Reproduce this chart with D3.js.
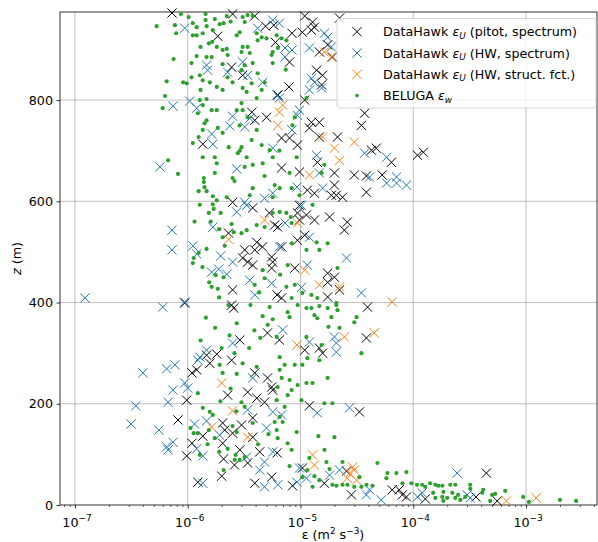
<!DOCTYPE html>
<html>
<head>
<meta charset="utf-8">
<script src="https://cdn.jsdelivr.net/npm/d3@7"></script>
<style>
  body { margin: 0; background: #fff; }
  text { font-family: "DejaVu Sans", sans-serif; }
</style>
</head>
<body>
<div id="chart"></div>
<script>
// [epsilon (m^2 s^-3), z (m)]
var pitot = [
  [7.25e-7,972],[1.85e-6,926],[2.45e-6,865],[1.36e-6,713],[2.5e-6,970],
  [3.93e-6,966],[4.9e-6,946],[5.8e-6,948],[8.4e-6,932],[6.0e-6,914],[8.0e-6,875],[7.9e-6,826],
  [1.09e-5,966],[1.28e-5,954],[1.33e-5,944],[1.04e-5,934],[1.25e-5,938],[2.22e-5,962],
  [1.74e-5,909],[1.47e-5,895],[1.92e-5,885],[1.39e-5,859],[1.57e-5,849],[1.54e-5,830],
  [1.09e-5,800],[6.3e-6,810],[3.7e-6,776],[3.93e-6,760],[5.0e-6,766],[6.8e-6,725],[8.0e-6,725],
  [9.4e-6,711],[1.25e-5,756],[1.2e-5,745],[1.47e-5,756],[1.47e-5,727],[2.13e-5,727],
  [3.7e-5,774],[3.47e-5,750],[4.26e-5,701],[4.7e-5,705],[6.4e-5,677],[1.09e-4,691],[1.23e-4,697],
  [1.41e-5,677],[6.8e-6,666],[9.8e-6,658],[2.0e-5,656],[3.0e-5,652],[3.84e-5,650],[5.3e-5,652],
  [3.07e-6,849],[9.4e-7,399],[2.5e-6,598],[2.3e-6,537],[2.5e-6,425],[2.45e-6,395],[2.56e-6,389],
  [2.0e-5,632],[2.08e-5,612],[2.36e-5,608],[3.84e-5,618],[1.15e-5,622],[1.33e-5,616],[1.88e-5,612],
  [9.8e-6,592],[3.77e-6,587],[5.3e-6,577],[6.3e-6,549],[5.9e-6,553],[9.4e-6,577],[1.13e-5,573],
  [1.33e-5,563],[1.81e-5,569],[2.6e-5,559],[2.45e-5,543],[9.8e-6,563],[9.4e-6,523],[1.09e-5,533],
  [4.1e-6,519],[4.6e-6,510],[3.93e-6,504],[3.2e-6,504],[3.07e-6,488],[3.4e-6,480],[3.77e-6,474],
  [5.55e-6,490],[5.67e-6,480],[5.55e-6,468],[6.8e-6,510],[8.9e-6,468],[1.74e-5,458],[2.0e-5,450],
  [1.74e-5,440],[2.22e-5,425],[1.74e-5,411],[6.2e-6,415],[6.8e-6,409],[3.93e-5,391],
  [5.1e-6,340],[6.5e-6,326],[3.84e-5,330],[2.9e-6,326],[1.47e-5,310],
  [1.09e-6,261],[1.2e-6,267],[9.8e-7,207],[8.2e-7,168],[1.36e-6,136],[1.09e-6,122],[2.04e-6,162],
  [2.13e-6,148],[2.04e-6,122],[2.5e-6,142],[9.8e-7,97],[2.08e-6,91],[2.6e-6,79],[2.0e-6,57],
  [1.23e-6,45],[1.81e-6,298],[1.57e-6,280],[2.45e-6,286],[2.26e-6,217],[1.47e-6,296],
  [1.09e-5,306],[1.57e-5,300],[3.93e-6,261],[5.1e-6,251],[5.55e-6,233],[3.4e-6,223],[4.1e-6,211],
  [4.8e-6,203],[5.67e-6,227],[1.2e-5,196],[3.33e-5,184],[3.77e-6,172],[3.0e-6,158],[3.77e-6,134],
  [2.9e-6,109],[4.35e-6,105],[6.2e-6,103],[3.4e-6,83],[1.04e-5,73],[5.55e-6,55],[3.93e-6,43],
  [8.5e-6,38],[1.63e-5,43],[2.56e-5,67],[2.83e-5,20],[6.5e-5,30],[7.5e-5,30],[8.0e-5,20],
  [8.7e-5,16],[4.45e-4,63],[1.28e-4,12],[3.6e-4,16],[5.55e-4,8]
];

var hwSpectrum = [
  [9.4e-7,942],[1.47e-6,869],[1.5e-6,859],[2.26e-6,855],[7.4e-7,788],[1.04e-6,798],[1.2e-6,784],
  [2.5e-6,768],[2.36e-6,749],[1.63e-6,733],[1.67e-6,713],[5.67e-7,668],[2.72e-6,664],
  [4.17e-6,942],[5.67e-6,958],[6.5e-6,952],[7.3e-6,903],[8.4e-6,899],[7.3e-6,885],[3.07e-6,875],
  [3.4e-6,849],[4.62e-6,835],[6.2e-6,810],[6.5e-6,804],[1.25e-5,843],[1.33e-5,835],[1.2e-5,820],
  [1.54e-5,824],[1.63e-5,932],[1.74e-5,924],[1.2e-5,903],[1.88e-5,905],[9.8e-6,780],[9.4e-6,770],
  [8.4e-6,741],[3.55e-6,764],[3.2e-6,747],[5.67e-6,705],[1.39e-5,691],[3.7e-5,695],[5.8e-5,687],
  [1.47e-5,656],[4.1e-5,648],[7.1e-5,648],
  [7.25e-7,543],[7.25e-7,504],[1.11e-6,512],[1.2e-6,496],[1.67e-6,549],[1.96e-6,492],[1.63e-6,460],
  [1.88e-6,466],[2.22e-6,456],[2.5e-6,480],[1.23e-7,409],[6.0e-7,391],[9.4e-7,401],[2.72e-6,579],
  [2.5e-6,320],[1.47e-6,306],
  [9.3e-6,628],[1.57e-5,626],[5.8e-5,636],[7.1e-5,636],[8.7e-5,632],[5.67e-6,616],[4.8e-6,606],
  [3.2e-6,598],[3.33e-6,592],[7.3e-6,557],[1.02e-5,592],[1.2e-5,529],[6.5e-6,510],[2.56e-5,488],
  [1.15e-5,474],[1.02e-5,430],[3.55e-6,444],[3.93e-6,415],[5.55e-6,438],[3.47e-5,419],[6.95e-6,346],
  [2.0e-5,332],[2.08e-5,320],[1.2e-5,322],
  [4.0e-7,261],[6.5e-7,269],[7.7e-7,277],[9.4e-7,241],[7.4e-7,227],[6.7e-7,203],[1.0e-6,231],
  [3.47e-7,196],[3.14e-7,160],[5.55e-7,148],[6.5e-7,115],[7.4e-7,124],[6.7e-7,109],[1.2e-6,111],
  [1.36e-6,97],[1.15e-6,160],[1.47e-6,166],[1.92e-6,138],[1.28e-6,292],[1.23e-6,286],[1.36e-6,43],
  [2.08e-5,302],[3.77e-6,251],[3.4e-6,188],[5.67e-6,184],[6.8e-6,178],[5.0e-6,152],[1.41e-5,182],
  [2.72e-5,192],[5.67e-6,105],[3.33e-6,95],[4.8e-6,85],[4.35e-6,69],[9.8e-6,73],[1.13e-5,53],
  [9.3e-6,45],[4.8e-6,36],[6.3e-6,40],[2.22e-5,69],[1.81e-5,59],[3.84e-5,20],[4.1e-5,30],
  [5.2e-5,10],[1.09e-4,16],[2.45e-4,63],[1.2e-4,24],[3.0e-4,20],[3.2e-4,14]
];

var hwStruct = [
  [1.63e-5,895],[1.88e-5,885],[6.95e-6,790],[6.5e-6,776],[6.3e-6,750],[1.57e-5,727],[2.0e-5,705],
  [3.0e-5,717],[2.22e-5,681],[1.2e-5,652],[2.3e-6,525],[4.8e-6,563],[9.4e-6,557],[1.09e-5,464],
  [1.47e-5,435],[2.22e-5,431],[6.5e-5,401],[4.5e-5,340],[2.45e-5,332],[9.3e-6,316],[2.0e-6,241],
  [2.5e-6,186],[1.63e-6,154],[3.4e-6,134],[1.28e-5,99],[1.33e-5,79],[2.9e-5,75],[3.0e-5,69],
  [2.72e-5,63],[2.6e-5,53],[3.14e-5,49],[6.7e-4,8],[1.23e-3,14]
];

var beluga = [
  [5.3e-7,946],[7.7e-7,948],[7.9e-7,932],[8.7e-7,970],[1.02e-6,964],[1.11e-6,952],[1.2e-6,944],
  [1.11e-6,928],[1.2e-6,928],[1.36e-6,932],[1.44e-6,958],[1.44e-6,970],[1.47e-6,946],[1.74e-6,960],
  [1.92e-6,950],[2.08e-6,952],[2.22e-6,966],[2.72e-6,928],[1.67e-6,938],[1.54e-6,912],[1.81e-6,905],
  [2.04e-6,899],[2.22e-6,901],[2.26e-6,889],[1.2e-6,887],[1.47e-6,885],[1.63e-6,885],[2.04e-6,871],
  [1.08e-6,873],[1.28e-6,849],[1.36e-6,839],[1.57e-6,835],[1.81e-6,826],[2.04e-6,820],[1.08e-6,845],
  [9.1e-7,835],[6.5e-7,837],[9.8e-7,833],[1.3e-6,820],[7.5e-7,881],[6.3e-7,808],[6.0e-7,784],
  [1.28e-6,800],[1.47e-6,802],[1.36e-6,790],[1.63e-6,780],[1.81e-6,780],[1.23e-6,774],[1.47e-6,760],
  [1.41e-6,754],[1.36e-6,741],[1.25e-6,727],[1.85e-6,745],[2.04e-6,735],[1.11e-6,715],[2.31e-6,707],
  [1.74e-6,687],[1.36e-6,687],[1.81e-6,675],[1.74e-6,656],[6.7e-7,681],[8.2e-7,654],[1.39e-6,646],
  [2.5e-6,646],[2.78e-6,695],[2.72e-6,780],[2.5e-6,835],[2.26e-6,845],
  [3.07e-6,964],[3.4e-6,968],[3.77e-6,966],[3.2e-6,954],[2.89e-6,934],[4.09e-6,932],[4.53e-6,924],
  [4.17e-6,918],[5.0e-6,922],[6.15e-6,928],[6.8e-6,922],[7.5e-6,918],[6.3e-6,903],[5.67e-6,895],
  [5.55e-6,889],[3.4e-6,905],[3.07e-6,905],[3.0e-6,895],[3.55e-6,893],[3.77e-6,873],[3.2e-6,869],
  [3.0e-6,859],[5.67e-6,873],[4.17e-6,853],[3.69e-6,833],[4.81e-6,835],[4.53e-6,820],[3.07e-6,824],
  [3.33e-6,816],[4.09e-6,804],[3.0e-6,794],[3.07e-6,780],[3.4e-6,766],[2.89e-6,750],[4.09e-6,741],
  [3.69e-6,721],[3.0e-6,707],[3.33e-6,687],[4.53e-6,711],[5.33e-6,701],[5.67e-6,687],[4.62e-6,675],
  [3.77e-6,672],[3.2e-6,668],[8.0e-6,656],[8.9e-6,766],[8.5e-6,750],[9.25e-6,687],[1.63e-5,672],
  [1.54e-5,656],[1.13e-5,804],
  [1.41e-6,628],[1.47e-6,620],[1.67e-6,610],[1.81e-6,602],[2.22e-6,608],[1.67e-6,594],[1.28e-6,593],
  [1.7e-6,585],[1.54e-6,577],[1.96e-6,577],[2.45e-6,555],[2.56e-6,539],[2.04e-6,529],[2.13e-6,512],
  [1.47e-6,506],[1.25e-6,498],[1.13e-6,488],[1.11e-6,478],[1.77e-6,454],[2.08e-6,450],[1.63e-6,431],
  [1.85e-6,427],[2.72e-6,359],[2.0e-6,310],[1.39e-6,638],
  [3.77e-6,626],[5.9e-6,632],[6.54e-6,626],[8.35e-6,626],[5.67e-6,608],[3.55e-6,612],[9.8e-6,612],
  [1.28e-5,593],[7.5e-6,577],[6.54e-6,579],[5.67e-6,577],[8.35e-6,557],[8.2e-6,569],[4.81e-6,549],
  [4.09e-6,553],[3.33e-6,543],[3.0e-6,537],[8.35e-6,517],[1.13e-5,504],[1.47e-5,504],[1.39e-5,519],
  [1.74e-5,517],[7.7e-6,474],[4.62e-6,464],[4.81e-6,448],[3.93e-6,435],[7.5e-6,431],[8.9e-6,435],
  [1.04e-5,419],[1.25e-5,415],[8.35e-6,409],[1.41e-5,409],[5.33e-6,391],[9.44e-6,395],[1.13e-5,389],
  [1.25e-5,389],[1.47e-5,393],[1.74e-5,389],[2.08e-5,395],[2.13e-5,385],[7.7e-6,381],[8.0e-6,371],
  [5.67e-6,367],[4.62e-6,373],[5.12e-6,356],[1.33e-5,375],[1.41e-5,369],[1.88e-5,371],[1.77e-5,352],
  [3.14e-5,371],[3.0e-5,361],[2.22e-5,350],[6.15e-6,332],[1.13e-5,332],[1.54e-5,316],[2.08e-5,399],
  [2.13e-5,468],
  [1.92e-6,277],[2.04e-6,261],[2.72e-6,259],[1.23e-6,221],[1.36e-6,192],[1.57e-6,184],[1.67e-6,178],
  [1.06e-6,152],[1.13e-6,142],[1.23e-6,142],[1.74e-6,132],[2.26e-6,111],[1.28e-6,99],[2.66e-6,99],
  [2.61e-6,89],[2.08e-6,69],[2.5e-6,156],[2.72e-6,144],[1.54e-6,148],
  [6.54e-6,292],[8.9e-6,277],[1.04e-5,277],[1.15e-5,290],[1.47e-5,286],[7.24e-6,277],[6.54e-6,267],
  [8.0e-6,247],[6.81e-6,251],[6.28e-6,233],[9.44e-6,237],[1.13e-5,241],[1.28e-5,241],[1.74e-5,251],
  [8.35e-6,227],[7.7e-6,217],[6.15e-6,207],[1.02e-5,207],[1.63e-5,201],[1.92e-5,201],[3.47e-5,300],
  [3.07e-6,280],[4.09e-6,273],[3.0e-6,203],[3.2e-6,194],[7.24e-6,194],[6.54e-6,174],[5.9e-6,164],
  [6.95e-6,164],[3.77e-6,162],[6.15e-6,148],[6.28e-6,132],[9.25e-6,144],[7.7e-6,122],[1.44e-5,136],
  [2.0e-5,134],[8.35e-6,109],[1.2e-5,93],[1.63e-5,109],[1.7e-5,85],[2.36e-5,85],[4.81e-5,83],
  [8.0e-6,77],[1.15e-5,69],[1.81e-5,71],[1.33e-5,57],[1.47e-5,49],[1.04e-5,55],[1.28e-5,36],
  [1.92e-5,40],[2.08e-5,38],[2.36e-5,40],[2.61e-5,40],[3.0e-5,36],[3.85e-5,40],[4.35e-5,38],
  [5.78e-5,53],[5.9e-5,63],[7.09e-5,63],[8.7e-5,65],[8.02e-5,43],[9.63e-5,43],[1.08e-4,40],
  [3.47e-5,36],[3.33e-5,55],[3.2e-6,95],[2.89e-6,89],
  [1.2e-4,40],[1.28e-4,36],[1.41e-4,43],[1.57e-4,40],[1.67e-4,38],[1.81e-4,38],[1.85e-4,26],
  [2.13e-4,40],[2.36e-4,40],[1.5e-4,24],[1.57e-4,14],[1.81e-4,16],[1.85e-4,8],[2.22e-4,24],
  [2.36e-4,14],[2.5e-4,20],[2.61e-4,10],[2.89e-4,16],[3.2e-4,40],[3.2e-4,32],[4.09e-4,24],
  [4.17e-4,30],[5.01e-4,20],[5.33e-4,22],[4.81e-4,8],[6.54e-4,28],[9.44e-4,16],[1.06e-3,6],
  [2.0e-3,10],[2.78e-3,8],[2.0e-4,14],
  // extra dots in the dense core
  [1.6e-6,560],[1.9e-6,545],[1.35e-6,470],[1.55e-6,440],[1.9e-6,410],[2.3e-6,395],[1.45e-6,370],
  [1.75e-6,350],[2.35e-6,335],[1.3e-6,325],[2.6e-6,300],[3.5e-6,310],[4.4e-6,330],[3.9e-6,345],
  [2.4e-6,230],[1.95e-6,205],[2.7e-6,185],[1.5e-6,120],[1.9e-6,105],[4.2e-6,120],[5.2e-6,140],
  [3.6e-6,395],[4.3e-6,420],[6.6e-6,455],[2.9e-6,700],[4.8e-6,650],[6.5e-6,700],[7.4e-6,860],
  [1.3e-6,905],[1.65e-6,915],[2.4e-6,955],[1.25e-6,620],[1.15e-6,560],[2.6e-6,640]
];

var xTicks = [1e-7, 1e-6, 1e-5, 1e-4, 1e-3];
var xTickExp = ["\u22127", "\u22126", "\u22125", "\u22124", "\u22123"];
var yTicks = [0, 200, 400, 600, 800];

function main() {
   drawChart();
}

function drawChart() {
   var W = 598, H = 542;
   var left = 60, right = 597, top = 12, bottom = 505;
   var fs = 12.7, fsSmall = 8.9;

   var svg = d3.select("#chart").append("svg")
      .attr("width", W)
      .attr("height", H);

   var x = d3.scaleLog()
      .domain([7.37e-8, 4.26e-3])
      .range([left, right]);

   var y = d3.scaleLinear()
      .domain([0, 974])
      .range([bottom, top]);

   //grid
   svg.append("g").selectAll("line")
      .data(xTicks)
      .enter().append("line")
         .attr("x1", function(d) { return x(d); })
         .attr("x2", function(d) { return x(d); })
         .attr("y1", top).attr("y2", bottom)
         .attr("stroke", "#b0b0b0").attr("stroke-width", 0.8);
   svg.append("g").selectAll("line")
      .data(yTicks.slice(1))
      .enter().append("line")
         .attr("x1", left).attr("x2", right)
         .attr("y1", function(d) { return y(d); })
         .attr("y2", function(d) { return y(d); })
         .attr("stroke", "#b0b0b0").attr("stroke-width", 0.8);

   //minor ticks on the log axis
   var minor = [];
   for (var e = -8; e <= -3; e++) {
      for (var m = 2; m <= 9; m++) {
         var v = m * Math.pow(10, e);
         if (v > x.domain()[0] && v < x.domain()[1]) minor.push(v);
      }
   }
   svg.append("g")
      .attr("transform", "translate(0," + bottom + ")")
      .call(d3.axisBottom(x).tickValues(minor).tickSize(2).tickFormat(""))
      .call(function(g) { g.select(".domain").remove(); })
      .selectAll("line").attr("stroke", "#000").attr("stroke-width", 0.6);

   //x axis
   var xAxis = svg.append("g")
      .attr("transform", "translate(0," + bottom + ")")
      .call(d3.axisBottom(x).tickValues(xTicks).tickSize(3.5).tickFormat(""));
   xAxis.select(".domain").remove();
   xAxis.selectAll("line").attr("stroke", "#000").attr("stroke-width", 0.8);

   var xl = svg.append("g").selectAll("text")
      .data(xTicks)
      .enter().append("text")
         .attr("x", function(d) { return x(d) + 2; })
         .attr("y", bottom + 22)
         .attr("text-anchor", "middle")
         .attr("font-size", fs)
         .attr("fill", "#000");
   xl.append("tspan").text("10");
   xl.append("tspan")
      .attr("dy", -6)
      .attr("font-size", fsSmall)
      .text(function(d, i) { return xTickExp[i]; });

   //y axis
   var yAxis = svg.append("g")
      .attr("transform", "translate(" + left + ",0)")
      .call(d3.axisLeft(y).tickValues(yTicks).tickSize(3.5).tickPadding(3.5));
   yAxis.select(".domain").remove();
   yAxis.selectAll("line").attr("stroke", "#000").attr("stroke-width", 0.8);
   yAxis.selectAll("text")
      .attr("font-size", fs)
      .attr("font-family", "DejaVu Sans")
      .attr("fill", "#000");

   //frame
   svg.append("rect")
      .attr("x", left).attr("y", top)
      .attr("width", right - left).attr("height", bottom - top)
      .attr("fill", "none").attr("stroke", "#000").attr("stroke-width", 0.8);

   //axis labels
   var xlab = svg.append("text")
      .attr("x", 333)
      .attr("y", 539)
      .attr("text-anchor", "middle")
      .attr("font-size", fs);
   xlab.append("tspan").text("\u03b5 (m");
   xlab.append("tspan").attr("dy", -5).attr("font-size", fsSmall).text("2");
   xlab.append("tspan").attr("dy", 5).text(" s");
   xlab.append("tspan").attr("dy", -5).attr("font-size", fsSmall).text("\u22123");
   xlab.append("tspan").attr("dy", 5).text(")");

   var ylab = svg.append("text")
      .attr("transform", "translate(21," + ((top + bottom) / 2) + ") rotate(-90)")
      .attr("text-anchor", "middle")
      .attr("font-size", fs);
   ylab.append("tspan").attr("font-style", "italic").text("z");
   ylab.append("tspan").text(" (m)");

   var plot = svg.append("g");

   function crosses(data, color) {
      plot.append("g").selectAll("path")
         .data(data)
         .enter().append("path")
            .attr("d", function(d) {
               var cx = x(d[0]), cy = y(d[1]), s = 4.6;
               return "M" + (cx - s) + "," + (cy - s) + "L" + (cx + s) + "," + (cy + s) +
                      "M" + (cx - s) + "," + (cy + s) + "L" + (cx + s) + "," + (cy - s);
            })
            .attr("stroke", color)
            .attr("stroke-width", 1)
            .attr("fill", "none");
   }

   crosses(pitot, "#000000");
   crosses(hwSpectrum, "#1f77b4");
   crosses(hwStruct, "#ff7f0e");

   plot.append("g").selectAll("circle")
      .data(beluga)
      .enter().append("circle")
         .attr("cx", function(d) { return x(d[0]); })
         .attr("cy", function(d) { return y(d[1]); })
         .attr("r", 2.1)
         .attr("fill", "#2ca02c");

   //legend
   var lg = svg.append("g");
   lg.append("rect")
      .attr("x", 337).attr("y", 18.5)
      .attr("width", 259).attr("height", 89.5)
      .attr("rx", 3)
      .attr("fill", "#fff").attr("fill-opacity", 0.8)
      .attr("stroke", "#cccccc").attr("stroke-width", 0.8);

   var entries = [
      {kind: "x", color: "#000000", name: "DataHawk ", sub: "U", tail: " (pitot, spectrum)"},
      {kind: "x", color: "#1f77b4", name: "DataHawk ", sub: "U", tail: " (HW, spectrum)"},
      {kind: "x", color: "#ff7f0e", name: "DataHawk ", sub: "U", tail: " (HW, struct. fct.)"},
      {kind: "o", color: "#2ca02c", name: "BELUGA ", sub: "w", tail: ""}
   ];
   entries.forEach(function(d, i) {
      var cy = 31.7 + i * 21.3, cx = 357;
      if (d.kind == "x") {
         var s = 4.6;
         lg.append("path")
            .attr("d", "M" + (cx - s) + "," + (cy - s) + "L" + (cx + s) + "," + (cy + s) +
                       "M" + (cx - s) + "," + (cy + s) + "L" + (cx + s) + "," + (cy - s))
            .attr("stroke", d.color).attr("stroke-width", 1);
      } else {
         lg.append("circle").attr("cx", cx).attr("cy", cy).attr("r", 1.8).attr("fill", d.color);
      }
      var t = lg.append("text")
         .attr("x", 383)
         .attr("y", cy + 4.5)
         .attr("font-size", fs);
      t.append("tspan").text(d.name);
      t.append("tspan").attr("font-style", "italic").text("\u03b5");
      t.append("tspan").attr("font-style", "italic").attr("font-size", fsSmall).attr("dy", 2.6).text(d.sub);
      t.append("tspan").attr("dy", -2.6).text(d.tail);
   });
}

main();
</script>
</body>
</html>
